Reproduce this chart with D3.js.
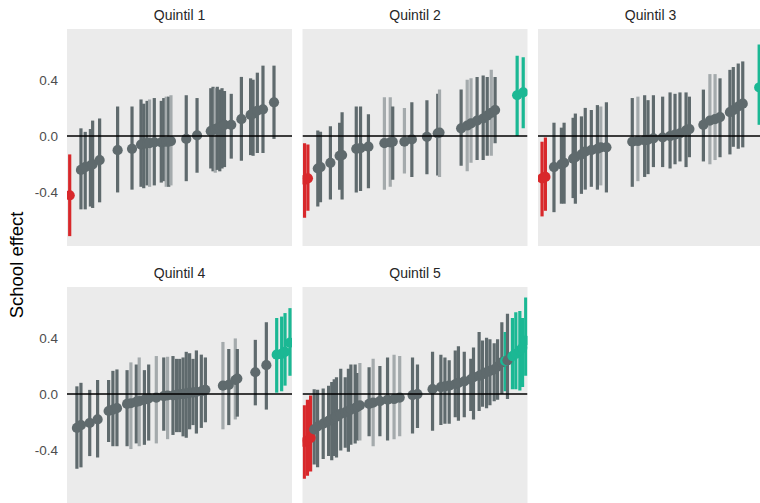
<!DOCTYPE html>
<html lang="en">
    <head>
        <meta charset="UTF-8" />
        <title>School effect by quintil</title>
        <script src="https://d3js.org/d3.v7.js"></script>
    </head>

    <body>
        <div id="dataviz"></div>
    </body>

    <script>
        // one row per school: [position, estimate, lower, upper, class]
        // class: g = gray, l = light gray, r = below zero, t = above zero
        const quintil1 = [
            [1.2, -0.42, -0.71, -0.13, "r"],
            [6.2, -0.24, -0.52, 0.055, "g"], [8.1, -0.22, -0.52, 0.03, "g"],
            [10.4, -0.21, -0.50, 0.05, "g"], [11.4, -0.20, -0.51, 0.11, "g"],
            [14.5, -0.17, -0.47, 0.125, "g"], [22.5, -0.10, -0.40, 0.21, "g"],
            [28.9, -0.09, -0.38, 0.21, "g"], [32.9, -0.06, -0.36, 0.26, "g"],
            [34.1, -0.055, -0.37, 0.23, "g"], [35.6, -0.05, -0.35, 0.25, "g"],
            [36.7, -0.05, -0.36, 0.26, "l"], [38.8, -0.045, -0.35, 0.27, "g"],
            [41.9, -0.045, -0.33, 0.25, "g"], [43.0, -0.04, -0.32, 0.27, "g"],
            [44.1, -0.04, -0.36, 0.28, "l"], [45.2, -0.04, -0.36, 0.28, "g"],
            [46.2, -0.035, -0.35, 0.29, "l"], [53.0, -0.02, -0.32, 0.29, "g"],
            [57.8, 0.005, -0.26, 0.27, "g"], [63.9, 0.035, -0.23, 0.34, "g"],
            [64.9, 0.045, -0.25, 0.35, "g"], [65.9, 0.05, -0.26, 0.34, "l"],
            [66.8, 0.055, -0.24, 0.35, "g"], [67.9, 0.06, -0.25, 0.33, "g"],
            [68.9, 0.07, -0.23, 0.34, "g"], [70.0, 0.08, -0.22, 0.32, "g"],
            [73.0, 0.08, -0.16, 0.30, "g"], [77.5, 0.12, -0.175, 0.42, "g"],
            [81.6, 0.15, -0.135, 0.41, "g"], [82.7, 0.16, -0.14, 0.40, "g"],
            [84.6, 0.18, -0.12, 0.45, "g"], [87.1, 0.19, -0.12, 0.50, "g"],
            [92.0, 0.24, -0.02, 0.50, "g"]
        ];

        const quintil2 = [
            [0.9, -0.31, -0.58, -0.05, "r"], [2.4, -0.30, -0.53, -0.06, "r"],
            [6.8, -0.23, -0.50, 0.04, "g"], [8.0, -0.22, -0.47, 0.03, "g"],
            [12.4, -0.19, -0.45, 0.07, "g"], [16.5, -0.14, -0.38, 0.095, "g"],
            [17.6, -0.135, -0.45, 0.17, "g"], [23.9, -0.09, -0.40, 0.21, "g"],
            [25.8, -0.085, -0.39, 0.21, "g"], [29.3, -0.075, -0.37, 0.155, "g"],
            [36.4, -0.05, -0.38, 0.275, "l"], [39.0, -0.045, -0.36, 0.275, "l"],
            [40.1, -0.04, -0.31, 0.21, "g"], [45.3, -0.04, -0.265, 0.20, "l"],
            [48.6, -0.024, -0.29, 0.24, "g"], [55.3, -0.005, -0.27, 0.255, "g"],
            [60.1, 0.02, -0.28, 0.30, "g"], [60.9, 0.025, -0.29, 0.33, "l"],
            [70.5, 0.055, -0.21, 0.33, "g"], [73.2, 0.075, -0.25, 0.40, "l"],
            [74.9, 0.09, -0.19, 0.41, "l"], [77.6, 0.11, -0.17, 0.42, "g"],
            [80.3, 0.125, -0.17, 0.43, "g"], [82.1, 0.145, -0.14, 0.42, "g"],
            [83.9, 0.165, -0.14, 0.47, "l"], [85.6, 0.185, -0.05, 0.42, "g"],
            [95.4, 0.29, 0.0, 0.57, "t"], [98.1, 0.31, 0.055, 0.56, "t"]
        ];

        const quintil3 = [
            [1.8, -0.30, -0.57, -0.04, "r"], [3.3, -0.29, -0.53, -0.01, "r"],
            [7.1, -0.22, -0.54, 0.095, "g"], [10.4, -0.20, -0.48, 0.06, "g"],
            [11.6, -0.19, -0.48, 0.095, "g"], [15.6, -0.16, -0.44, 0.13, "g"],
            [16.6, -0.15, -0.48, 0.16, "g"], [19.3, -0.13, -0.41, 0.14, "g"],
            [21.0, -0.11, -0.38, 0.20, "g"], [23.7, -0.10, -0.36, 0.185, "g"],
            [26.4, -0.09, -0.38, 0.22, "g"], [27.9, -0.08, -0.35, 0.21, "l"],
            [30.4, -0.08, -0.40, 0.24, "g"], [41.9, -0.04, -0.36, 0.27, "g"],
            [44.4, -0.035, -0.32, 0.28, "l"], [47.4, -0.03, -0.29, 0.29, "g"],
            [48.9, -0.025, -0.27, 0.255, "g"], [51.3, -0.016, -0.22, 0.29, "g"],
            [55.4, -0.01, -0.22, 0.28, "g"], [58.7, 0.0, -0.23, 0.31, "g"],
            [60.9, 0.01, -0.20, 0.30, "g"], [63.1, 0.02, -0.18, 0.31, "g"],
            [65.8, 0.04, -0.22, 0.31, "g"], [67.3, 0.05, -0.15, 0.28, "g"],
            [73.5, 0.08, -0.18, 0.33, "g"], [76.4, 0.11, -0.20, 0.44, "l"],
            [78.7, 0.12, -0.17, 0.44, "l"], [80.9, 0.135, -0.15, 0.41, "g"],
            [85.3, 0.17, -0.13, 0.47, "g"], [86.8, 0.185, -0.076, 0.49, "g"],
            [89.0, 0.21, -0.09, 0.515, "g"], [91.0, 0.23, -0.08, 0.53, "g"],
            [98.3, 0.345, 0.08, 0.65, "t"]
        ];

        const quintil4 = [
            [4.4, -0.24, -0.53, 0.055, "g"], [6.2, -0.22, -0.52, 0.08, "g"],
            [10.1, -0.205, -0.44, 0.03, "g"], [13.6, -0.18, -0.45, 0.10, "g"],
            [18.5, -0.12, -0.34, 0.10, "g"], [20.4, -0.11, -0.37, 0.165, "g"],
            [22.2, -0.10, -0.37, 0.175, "g"], [26.7, -0.07, -0.37, 0.17, "g"],
            [28.4, -0.065, -0.39, 0.225, "l"], [30.8, -0.055, -0.35, 0.21, "g"],
            [32.1, -0.05, -0.37, 0.26, "l"], [34.4, -0.04, -0.36, 0.17, "g"],
            [36.3, -0.03, -0.33, 0.21, "g"], [39.7, -0.025, -0.35, 0.27, "l"],
            [43.0, -0.015, -0.26, 0.26, "g"], [44.7, -0.01, -0.32, 0.265, "l"],
            [47.1, -0.01, -0.29, 0.27, "g"], [48.7, -0.005, -0.27, 0.25, "g"],
            [50.1, 0.0, -0.27, 0.25, "g"], [51.6, 0.0, -0.30, 0.26, "g"],
            [53.0, 0.005, -0.31, 0.30, "g"], [54.5, 0.01, -0.25, 0.29, "g"],
            [56.0, 0.01, -0.22, 0.25, "g"], [57.5, 0.015, -0.28, 0.31, "g"],
            [59.7, 0.02, -0.24, 0.28, "g"], [61.5, 0.03, -0.20, 0.26, "g"],
            [69.3, 0.06, -0.25, 0.37, "l"], [71.9, 0.065, -0.22, 0.32, "g"],
            [74.8, 0.10, -0.18, 0.395, "l"], [75.7, 0.11, -0.16, 0.32, "g"],
            [83.7, 0.155, -0.08, 0.385, "g"], [88.6, 0.205, -0.11, 0.51, "g"],
            [93.2, 0.28, 0.01, 0.54, "t"], [95.4, 0.285, 0.02, 0.55, "t"],
            [96.9, 0.30, 0.06, 0.575, "t"], [99.1, 0.365, 0.13, 0.61, "t"]
        ];

        const quintil5 = [
            [0.8, -0.34, -0.60, -0.08, "r"], [2.2, -0.33, -0.58, -0.04, "r"],
            [3.6, -0.31, -0.55, -0.01, "r"], [5.2, -0.25, -0.50, 0.035, "g"],
            [6.7, -0.23, -0.52, 0.03, "g"], [9.2, -0.21, -0.46, 0.04, "g"],
            [11.6, -0.19, -0.44, 0.06, "g"], [13.0, -0.18, -0.47, 0.085, "g"],
            [14.1, -0.17, -0.44, 0.105, "g"], [15.1, -0.16, -0.45, 0.12, "g"],
            [17.0, -0.14, -0.40, 0.18, "g"], [19.0, -0.13, -0.38, 0.12, "g"],
            [20.4, -0.12, -0.41, 0.18, "g"], [21.5, -0.11, -0.36, 0.21, "g"],
            [23.4, -0.10, -0.35, 0.21, "g"], [24.4, -0.09, -0.33, 0.15, "g"],
            [25.5, -0.08, -0.33, 0.22, "l"], [29.6, -0.07, -0.30, 0.19, "g"],
            [31.4, -0.06, -0.37, 0.25, "l"], [34.4, -0.05, -0.30, 0.20, "g"],
            [37.8, -0.04, -0.33, 0.26, "g"], [40.7, -0.035, -0.32, 0.28, "l"],
            [43.2, -0.025, -0.30, 0.27, "l"], [48.9, -0.007, -0.28, 0.26, "g"],
            [51.1, 0.0, -0.24, 0.21, "g"], [57.8, 0.035, -0.26, 0.30, "g"],
            [61.5, 0.05, -0.22, 0.28, "g"], [63.3, 0.055, -0.21, 0.26, "g"],
            [65.2, 0.06, -0.21, 0.24, "g"], [67.9, 0.07, -0.165, 0.31, "g"],
            [69.3, 0.08, -0.19, 0.34, "g"], [71.9, 0.09, -0.165, 0.30, "g"],
            [74.8, 0.105, -0.12, 0.25, "g"], [76.0, 0.12, -0.18, 0.33, "g"],
            [78.5, 0.13, -0.12, 0.44, "g"], [80.0, 0.14, -0.09, 0.38, "g"],
            [81.8, 0.155, -0.10, 0.40, "g"], [83.3, 0.165, -0.08, 0.39, "g"],
            [85.2, 0.175, -0.05, 0.36, "g"], [86.7, 0.195, -0.04, 0.39, "g"],
            [88.6, 0.225, 0.0, 0.51, "g"], [90.1, 0.235, 0.02, 0.44, "t"],
            [91.1, 0.24, -0.035, 0.57, "g"], [93.3, 0.27, 0.035, 0.54, "t"],
            [94.8, 0.285, 0.035, 0.58, "t"], [96.6, 0.31, 0.025, 0.59, "t"],
            [97.8, 0.33, 0.05, 0.54, "t"], [99.2, 0.38, 0.13, 0.685, "t"]
        ];

        const panelTitles = ["Quintil 1", "Quintil 2", "Quintil 3", "Quintil 4", "Quintil 5"];
        const panelData = [quintil1, quintil2, quintil3, quintil4, quintil5];
        const yTicks = [-0.4, 0.0, 0.4];

        const lineColor = {g: "#5f6a6d", l: "#a4aaac", r: "#d8282b", t: "#1bb894"};
        const dotColor = {g: "#5f6a6d", l: "#5f6a6d", r: "#d8282b", t: "#1bb894"};

        const W = 760, H = 503;
        const panelW = 225, panelH = 217;
        const marginLeft = 67, marginTop = 29, colStep = 235.5, rowStep = 258;

        const svg = d3.select("#dataviz")
            .append("svg")
            .attr("width", W)
            .attr("height", H);

        const x = d3.scaleLinear().domain([0, 100]).range([0, panelW]);
        const y = d3.scaleLinear().domain([-0.78, 0.76]).range([panelH, 0]);

        panelData.forEach(function(rows, i) {
            const col = i % 3, row = Math.floor(i / 3);
            const g = svg.append("g")
                .attr("transform", `translate(${marginLeft + col * colStep},${marginTop + row * rowStep})`);

            g.append("clipPath").attr("id", "clip" + i)
                .append("rect").attr("width", panelW).attr("height", panelH);

            g.append("rect")
                .attr("width", panelW)
                .attr("height", panelH)
                .attr("fill", "#ebebeb");

            g.append("text")
                .attr("x", panelW / 2)
                .attr("y", -9)
                .attr("text-anchor", "middle")
                .style("font-family", "Liberation Sans, Arial, sans-serif")
                .style("font-size", "14px")
                .style("fill", "#262626")
                .text(panelTitles[i]);

            const plot = g.append("g").attr("clip-path", `url(#clip${i})`);

            plot.selectAll("line.ci")
                .data(rows)
                .join("line")
                .attr("class", "ci")
                .attr("x1", d => x(d[0]))
                .attr("x2", d => x(d[0]))
                .attr("y1", d => y(d[2]))
                .attr("y2", d => y(d[3]))
                .attr("stroke", d => lineColor[d[4]])
                .attr("stroke-width", 3.2);

            plot.selectAll("circle")
                .data(rows)
                .join("circle")
                .attr("cx", d => x(d[0]))
                .attr("cy", d => y(d[1]))
                .attr("r", 5.1)
                .attr("fill", d => dotColor[d[4]]);

            plot.append("line")
                .attr("x1", 0).attr("x2", panelW)
                .attr("y1", y(0)).attr("y2", y(0))
                .attr("stroke", "black")
                .attr("stroke-width", 1.5);

            if (col === 0) {
                const ax = g.append("g")
                    .call(d3.axisLeft(y).tickValues(yTicks).tickFormat(d3.format(".1f")).tickSize(0).tickPadding(9));
                ax.select(".domain").remove();
                ax.selectAll("text")
                    .style("font-family", "Liberation Sans, Arial, sans-serif")
                    .style("font-size", "13.5px")
                    .style("fill", "#4d4d4d")
                    .text(d => d3.format(".1f")(d).replace("−", "-"));
            }
        });

        svg.append("text")
            .attr("transform", "translate(23,265) rotate(-90)")
            .attr("text-anchor", "middle")
            .style("font-family", "Liberation Sans, Arial, sans-serif")
            .style("font-size", "18.5px")
            .style("fill", "black")
            .text("School effect");
    </script>

    <style>
        body { margin: 0; background: white; }
        svg { display: block; }
    </style>
</html>
